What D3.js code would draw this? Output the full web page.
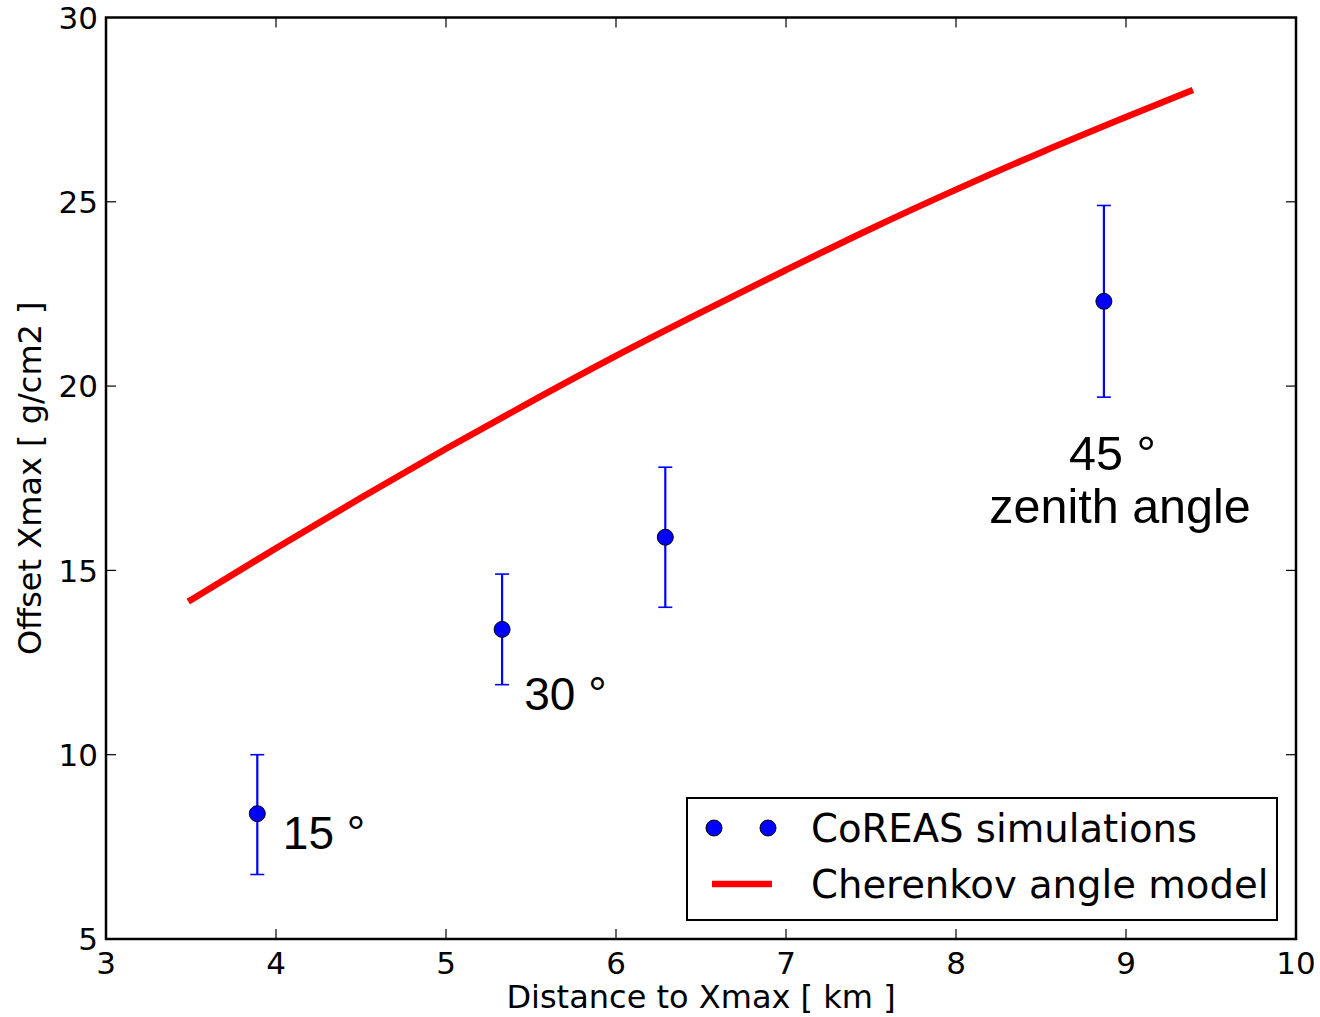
<!DOCTYPE html>
<html>
<head>
<meta charset="utf-8">
<script src="https://cdn.jsdelivr.net/npm/d3@7"></script>
<style>
  html, body { margin: 0; padding: 0; background: #fff; }
  svg { display: block; }
</style>
</head>
<body>
<svg id="chart" width="1320" height="1017"></svg>
<script>
// CoREAS simulation results: distance to Xmax [km] vs. offset Xmax [g/cm2]
const simDistance = [3.89, 5.33, 6.29, 8.87];
const simOffset   = [8.4, 13.4, 15.9, 22.3];
const simErrLow   = [6.75, 11.9, 14.0, 19.7];
const simErrHigh  = [10.0, 14.9, 17.8, 24.9];
const simAngleLabels = ["15 °", "30 °", "45 °"];

// Cherenkov angle model curve
const modelDistance = [3.5, 4.0, 4.5, 5.0, 5.5, 6.0, 6.5, 7.0, 7.5, 8.0, 8.5, 9.0, 9.376];
const modelOffset   = [14.2, 15.6, 16.97, 18.3, 19.58, 20.82, 22.0, 23.15, 24.27, 25.33, 26.34, 27.3, 28.0];

const xTicks = [3, 4, 5, 6, 7, 8, 9, 10];
const yTicks = [5, 10, 15, 20, 25, 30];

const legendLabels = ["CoREAS simulations", "Cherenkov angle model"];

const svg = d3.select("#chart");
const plotLeft = 106, plotRight = 1296, plotTop = 17.5, plotBottom = 939;

const x = d3.scaleLinear().domain([3, 10]).range([plotLeft, plotRight]);
const y = d3.scaleLinear().domain([5, 30]).range([plotBottom, plotTop]);

const tickFont = "DejaVu Sans, sans-serif";
const annFont = "Liberation Sans, Arial, sans-serif";

// model curve, clipped to the axes
svg.append("clipPath").attr("id", "plotclip")
  .append("rect").attr("x", plotLeft).attr("y", plotTop)
  .attr("width", plotRight - plotLeft).attr("height", plotBottom - plotTop);

const modelPts = modelDistance.map((d, i) => [d, modelOffset[i]]);
svg.append("path")
  .datum(modelPts)
  .attr("clip-path", "url(#plotclip)")
  .attr("fill", "none")
  .attr("stroke", "#ff0000")
  .attr("stroke-width", 6.5)
  .attr("stroke-linecap", "square")
  .attr("d", d3.line().x(d => x(d[0])).y(d => y(d[1])).curve(d3.curveMonotoneX));

// error bars
const sims = simDistance.map((d, i) => ({ x: d, y: simOffset[i], lo: simErrLow[i], hi: simErrHigh[i] }));
const eb = svg.append("g");
eb.selectAll("line.bar").data(sims).join("line")
  .attr("class", "bar")
  .attr("x1", d => x(d.x)).attr("x2", d => x(d.x))
  .attr("y1", d => y(d.lo)).attr("y2", d => y(d.hi))
  .attr("stroke", "#0000ff").attr("stroke-width", 2.2);
["lo", "hi"].forEach(k => {
  eb.selectAll("line.cap" + k).data(sims).join("line")
    .attr("class", "cap" + k)
    .attr("x1", d => x(d.x) - 7).attr("x2", d => x(d.x) + 7)
    .attr("y1", d => y(d[k])).attr("y2", d => y(d[k]))
    .attr("stroke", "#0000ff").attr("stroke-width", 1.6);
});

// simulation markers
svg.append("g").selectAll("circle").data(sims).join("circle")
  .attr("cx", d => x(d.x)).attr("cy", d => y(d.y)).attr("r", 8)
  .attr("fill", "#0000ff").attr("stroke", "#000").attr("stroke-width", 1);

// zenith angle annotations
const ann = svg.append("g").attr("font-family", annFont).attr("font-size", 46).attr("fill", "#000");
ann.append("text").attr("x", x(4.04)).attr("y", y(7.43)).text(simAngleLabels[0]);
ann.append("text").attr("x", x(5.46)).attr("y", y(11.2)).text(simAngleLabels[1]);
ann.append("text").attr("x", x(8.92)).attr("y", y(17.73)).attr("font-size", 48.5)
  .attr("text-anchor", "middle").text(simAngleLabels[2]);
ann.append("text").attr("x", x(8.965)).attr("y", y(16.28)).attr("font-size", 48.5)
  .attr("text-anchor", "middle").text("zenith angle");

// axes frame
svg.append("rect").attr("x", plotLeft).attr("y", plotTop)
  .attr("width", plotRight - plotLeft).attr("height", plotBottom - plotTop)
  .attr("fill", "none").attr("stroke", "#000").attr("stroke-width", 2.5);

// ticks (inward, all four sides)
const tickLen = 10;
const tk = svg.append("g").attr("stroke", "#000").attr("stroke-width", 1.2);
xTicks.slice(1, -1).forEach(t => {
  tk.append("line").attr("x1", x(t)).attr("x2", x(t)).attr("y1", plotBottom).attr("y2", plotBottom - tickLen);
  tk.append("line").attr("x1", x(t)).attr("x2", x(t)).attr("y1", plotTop).attr("y2", plotTop + tickLen);
});
yTicks.slice(1, -1).forEach(t => {
  tk.append("line").attr("y1", y(t)).attr("y2", y(t)).attr("x1", plotLeft).attr("x2", plotLeft + tickLen);
  tk.append("line").attr("y1", y(t)).attr("y2", y(t)).attr("x1", plotRight).attr("x2", plotRight - tickLen);
});

// tick labels
const xl = svg.append("g").attr("font-family", tickFont).attr("font-size", 31).attr("fill", "#000");
xl.selectAll("text").data(xTicks).join("text")
  .attr("x", d => x(d)).attr("y", 974).attr("text-anchor", "middle").text(d => d);
const yl = svg.append("g").attr("font-family", tickFont).attr("font-size", 31).attr("fill", "#000");
yl.selectAll("text").data(yTicks).join("text")
  .attr("x", 98).attr("y", d => y(d)).attr("dy", "0.36em").attr("text-anchor", "end").text(d => d);

// axis titles
svg.append("text").attr("x", (plotLeft + plotRight) / 2).attr("y", 1008)
  .attr("font-family", tickFont).attr("font-size", 32).attr("text-anchor", "middle")
  .text("Distance to Xmax [ km ]");
svg.append("text").attr("transform", `translate(41,${(plotTop + plotBottom) / 2}) rotate(-90)`)
  .attr("font-family", tickFont).attr("font-size", 32).attr("text-anchor", "middle")
  .text("Offset Xmax [ g/cm2 ]");

// legend
const lg = svg.append("g");
lg.append("rect").attr("x", 687).attr("y", 798).attr("width", 590).attr("height", 122)
  .attr("fill", "#fff").attr("stroke", "#000").attr("stroke-width", 2);
[714, 768].forEach(cx => {
  lg.append("circle").attr("cx", cx).attr("cy", 828).attr("r", 8)
    .attr("fill", "#0000ff").attr("stroke", "#000").attr("stroke-width", 1);
});
lg.append("line").attr("x1", 712).attr("x2", 772).attr("y1", 884).attr("y2", 884)
  .attr("stroke", "#ff0000").attr("stroke-width", 6.5);
lg.selectAll("text").data(legendLabels).join("text")
  .attr("x", 811).attr("y", (d, i) => 842 + i * 56)
  .attr("font-family", tickFont).attr("font-size", 38.6).attr("fill", "#000")
  .text(d => d);
</script>
</body>
</html>
